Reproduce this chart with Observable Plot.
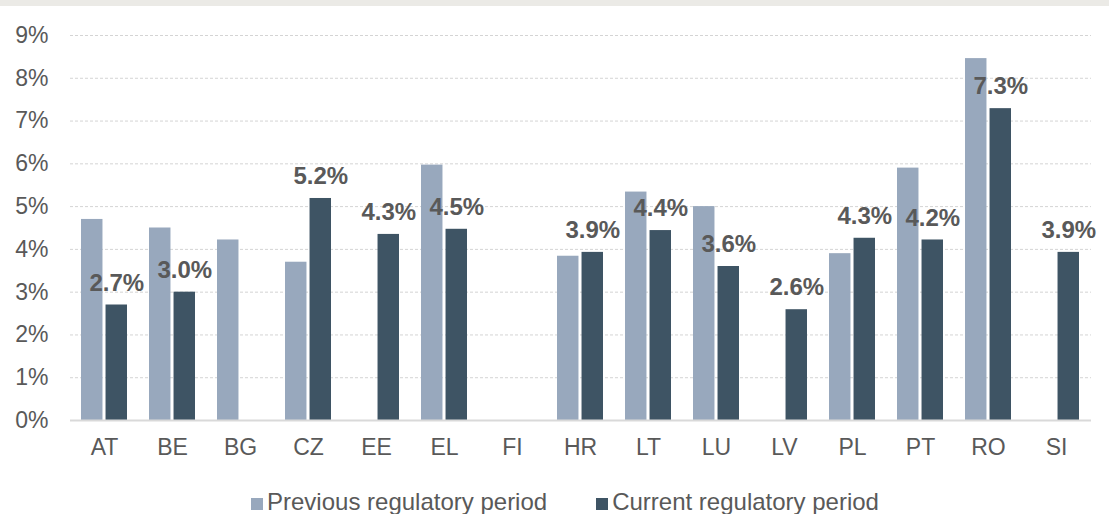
<!DOCTYPE html>
<html>
<head>
<meta charset="utf-8">
<script src="https://cdn.jsdelivr.net/npm/d3@7"></script>
<script src="https://cdn.jsdelivr.net/npm/@observablehq/plot@0.6"></script>
<style>
  html, body { margin: 0; padding: 0; background: #fff; }
  #wrap { position: relative; width: 1109px; height: 514px; overflow: hidden; }
  #band { height: 6px; background: #ebeae6; }
  #legend { position: absolute; top: 488px; left: 251px; height: 28px; display: flex; align-items: center;
    font-family: "Liberation Sans", Arial, sans-serif; font-size: 24px; color: #595959; }
  .item { display: flex; align-items: center; }
  .sw { width: 12px; height: 12px; margin-right: 4px; margin-top: 3px; }
</style>
</head>
<body>
<div id="wrap">
  <div id="band"></div>
  <div id="chart"></div>
  <div id="legend"></div>
</div>
<script>
const countries = ["AT","BE","BG","CZ","EE","EL","FI","HR","LT","LU","LV","PL","PT","RO","SI"];
const previous = [4.7, 4.5, 4.22, 3.7, null, 5.97, null, 3.84, 5.34, 5.0, null, 3.9, 5.9, 8.46, null];
const current = [2.7, 3.0, null, 5.19, 4.35, 4.47, null, 3.93, 4.44, 3.6, 2.59, 4.26, 4.22, 7.29, 3.93];
const labels = ["2.7%","3.0%",null,"5.2%","4.3%","4.5%",null,"3.9%","4.4%","3.6%","2.6%","4.3%","4.2%","7.3%","3.9%"];
const seriesNames = ["Previous regulatory period", "Current regulatory period"];
const seriesColors = ["#98a8bd", "#3e5464"];
const yTicks = [0,1,2,3,4,5,6,7,8,9];

const prevData = countries.map((c, i) => ({country: c, value: previous[i]})).filter(d => d.value != null);
const curData = countries.map((c, i) => ({country: c, value: current[i], label: labels[i]})).filter(d => d.value != null);

const W = 1109, ML = 70, MR = 18;
const pIn = 0.32, pOut = 0.16;
const step = (W - ML - MR) / (countries.length - pIn + 2 * pOut);
const bw = step * (1 - pIn);
const barW = bw * 0.47;
const inset = bw - barW;

const chart = Plot.plot({
  width: W,
  height: 475,
  marginTop: 29,
  marginBottom: 61,
  marginLeft: ML,
  marginRight: MR,
  style: {fontFamily: "'Liberation Sans', Arial, sans-serif", fontSize: "23px", color: "#595959", background: "transparent"},
  x: {domain: countries, paddingInner: pIn, paddingOuter: pOut, label: null, tickSize: 0, tickPadding: 18},
  y: {domain: [0, 9], ticks: yTicks, tickFormat: d => d + "%", label: null, tickSize: 0, tickPadding: 22},
  marks: [
    Plot.ruleY(yTicks.filter(t => t > 0), {stroke: "#d4d4d4", strokeDasharray: "3,2", strokeWidth: 1}),
    Plot.barY(prevData, {x: "country", y: "value", fill: seriesColors[0], insetRight: inset}),
    Plot.barY(curData, {x: "country", y: "value", fill: seriesColors[1], insetLeft: inset}),
    Plot.ruleY([0], {stroke: "#d9d9d9", strokeWidth: 2}),
    Plot.text(curData, {x: "country", y: "value", text: "label", dx: (bw - barW) / 2, dy: -22,
      lineAnchor: "middle", fontWeight: "bold", fontSize: 24, fill: "#595959"})
  ]
});
document.getElementById("chart").appendChild(chart);

const legend = document.getElementById("legend");
seriesNames.forEach((name, i) => {
  const item = document.createElement("div");
  item.className = "item";
  if (i > 0) item.style.marginLeft = "49px";
  const sw = document.createElement("div");
  sw.className = "sw";
  sw.style.background = seriesColors[i];
  const t = document.createElement("span");
  t.textContent = name;
  item.appendChild(sw);
  item.appendChild(t);
  legend.appendChild(item);
});
</script>
</body>
</html>
